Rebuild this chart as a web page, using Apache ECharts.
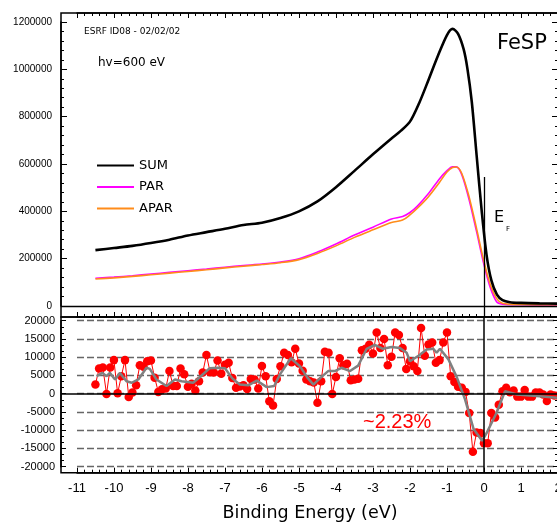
<!DOCTYPE html>
<html>
<head>
<meta charset="utf-8">
<title>FeSP</title>
<script src="https://cdn.jsdelivr.net/npm/echarts@6/dist/echarts.min.js"></script>
<style>
  html, body { margin: 0; padding: 0; background: #fff; }
  #chart { width: 557px; height: 526px; }
</style>
</head>
<body>
<div id="chart"></div>
<script>
// top panel: spectra, binding energy (eV) vs counts
var sumE = [-10.5, -10, -9.5, -9, -8.5, -8, -7.5, -7, -6.5, -6, -5.5, -5, -4.5, -4, -3.5, -3, -2.5, -2.25, -2, -1.75, -1.5, -1.25, -1, -0.85, -0.7, -0.55, -0.45, -0.33, -0.2, -0.06, 0.07, 0.2, 0.35, 0.5, 0.7, 1, 1.5, 2];
var sumY = [236000, 245000, 254000, 266000, 280000, 298000, 312000, 326000, 342000, 352000, 372000, 400000, 442000, 502000, 571000, 641000, 708000, 740000, 779000, 858000, 955000, 1055000, 1145000, 1171000, 1150000, 1085000, 1005000, 863000, 638000, 399000, 215000, 108000, 48000, 25000, 16000, 13000, 11000, 10000];

var parE = [-10.5, -10, -9.5, -9, -8.5, -8, -7.5, -7, -6.5, -6, -5.5, -5, -4.5, -4, -3.5, -3, -2.5, -2.2, -2, -1.8, -1.5, -1.2, -1, -0.85, -0.75, -0.6, -0.4, -0.2, -0.02, 0.16, 0.34, 0.5, 1, 2];
var parY = [117000, 122000, 128000, 135000, 142000, 149000, 156000, 164000, 171000, 177000, 186000, 200000, 228000, 262000, 300000, 333000, 368000, 378000, 395000, 422000, 475000, 538000, 572000, 588000, 588000, 555000, 448000, 314000, 187000, 82000, 18000, 8000, 5000, 4000];
var aparY = [114000, 119000, 125000, 132000, 139000, 146000, 153000, 161000, 168000, 175000, 183000, 196000, 222000, 254000, 290000, 322000, 353000, 363000, 385000, 413000, 462000, 523000, 566000, 585000, 587000, 560000, 460000, 327000, 201000, 96000, 32000, 12000, 6000, 5000];

// bottom panel: PAR - APAR difference
var diffE = [-10.5, -10.4, -10.3, -10.2, -10.1, -10.0, -9.9, -9.8, -9.7, -9.6,
  -9.5, -9.4, -9.3, -9.2, -9.1, -9.0, -8.9, -8.8, -8.7, -8.6,
  -8.5, -8.4, -8.3, -8.2, -8.1, -8.0, -7.9, -7.8, -7.7, -7.6,
  -7.5, -7.4, -7.3, -7.2, -7.1, -7.0, -6.9, -6.8, -6.7, -6.6,
  -6.5, -6.4, -6.3, -6.2, -6.1, -6.0, -5.9, -5.8, -5.7, -5.6,
  -5.5, -5.4, -5.3, -5.2, -5.1, -5.0, -4.9, -4.8, -4.7, -4.6,
  -4.5, -4.4, -4.3, -4.2, -4.1, -4.0, -3.9, -3.8, -3.7, -3.6,
  -3.5, -3.4, -3.3, -3.2, -3.1, -3.0, -2.9, -2.8, -2.7, -2.6,
  -2.5, -2.4, -2.3, -2.2, -2.1, -2.0, -1.9, -1.8, -1.7, -1.6,
  -1.5, -1.4, -1.3, -1.2, -1.1, -1.0, -0.9, -0.8, -0.7, -0.6,
  -0.5, -0.4, -0.3, -0.2, -0.1, 0.0, 0.1, 0.2, 0.3, 0.4,
  0.5, 0.6, 0.7, 0.8, 0.9, 1.0, 1.1, 1.2, 1.3, 1.4,
  1.5, 1.6, 1.7, 1.8, 1.9, 2.0];
var diffY = [2500, 6900, 7200, -100, 7200, 9200, 100, 4800, 9200, -900,
  300, 2300, 7800, 7400, 8900, 9100, 4400, 500, 1200, 1400,
  6200, 2100, 2100, 6900, 5300, 1900, 2700, 900, 3400, 5800,
  10600, 5900, 5800, 9100, 5500, 7900, 8500, 4300, 1600, 2000,
  2300, 1300, 4000, 3900, 1400, 7600, 4800, -2100, -3200, 4000,
  7500, 11200, 10600, 8600, 12300, 8300, 6300, 3900, 3400, 3100,
  -2500, 3400, 11500, 11200, -100, 4600, 9700, 7800, 8200, 3700,
  3900, 4100, 11900, 12300, 13400, 11000, 16800, 12500, 15000, 7800,
  10100, 16800, 16100, 12500, 6800, 8900, 7500, 6200, 18000, 10400,
  13500, 14000, 8500, 9200, 14000, 16800, 4800, 3200, 1900, 1600,
  500, -5300, -15900, -10600, -10800, -13600, -13600, -5300, -6500, -3000,
  700, 1600, 400, 900, -800, -800, 1000, -800, -800, 300,
  300, -200, -2000, -200, -500, -500];

// smoothed difference (grey line)
var smoothE = [-10.47, -10.31, -10.2, -10.11, -9.97, -9.84, -9.66, -9.52, -9.34, -9.12, -9.03, -8.85, -8.58, -8.35, -8.17, -7.86, -7.63, -7.41, -7.18, -7.0, -6.8, -6.6, -6.37, -6.14, -5.87, -5.67, -5.5, -5.22, -4.97, -4.77, -4.61, -4.39, -4.21, -4.03, -3.85, -3.62, -3.4, -3.17, -2.95, -2.73, -2.5, -2.27, -2.09, -2.0, -1.77, -1.55, -1.37, -1.28, -1.19, -0.96, -0.73, -0.51, -0.28, -0.05, 0.08, 0.34, 0.57, 0.89, 1.42, 1.97];
var smoothY = [4800, 5700, 4800, 5700, 3900, 5700, 3400, 3000, 3900, 7100, 6800, 3900, 2100, 3900, 3400, 3000, 5000, 7000, 7100, 7000, 4200, 2500, 2300, 3600, 1800, 2100, 5500, 9700, 7500, 4400, 2500, 4600, 6200, 6200, 7100, 6200, 7700, 12300, 13400, 12300, 12800, 12500, 11200, 8900, 10400, 12100, 12300, 11200, 12300, 9400, 4400, -1600, -9700, -12900, -10600, -5200, 700, -200, -600, -1100];

function zip(xs, ys) {
    return xs.map(function (x, i) { return [x, ys[i]]; });
}
function plain(v) { return String(v); }
function ax(base, extra) { return Object.assign({}, base, extra); }

var chart = echarts.init(document.getElementById('chart'));

var frameLine = {show: true, onZero: false, lineStyle: {color: '#000', width: 1.5}};
var tickX = {
    type: 'value', min: -11, max: 2, interval: 1,
    axisLine: frameLine,
    axisTick: {show: true, inside: true, length: 5, lineStyle: {color: '#000', width: 1}},
    minorTick: {show: true, splitNumber: 5, length: 3, lineStyle: {color: '#000', width: 1}},
    axisLabel: {show: false},
    splitLine: {show: false}
};
var tickTop = {
    type: 'value', min: 0, max: 1200000, interval: 200000,
    axisLine: frameLine,
    axisTick: {show: true, inside: true, length: 6, lineStyle: {color: '#000', width: 1}},
    minorTick: {show: true, splitNumber: 5, length: 3, lineStyle: {color: '#000', width: 1}},
    axisLabel: {show: false},
    splitLine: {show: false}
};
var tickBottom = {
    type: 'value', min: -20000, max: 20000, interval: 5000,
    axisLine: frameLine,
    axisTick: {show: true, inside: true, length: 5, lineStyle: {color: '#000', width: 1}},
    minorTick: {show: true, splitNumber: 3, length: 3, lineStyle: {color: '#000', width: 1}},
    axisLabel: {show: false},
    splitLine: {show: false}
};

var option = {
    animation: false,
    backgroundColor: '#fff',
    grid: [
        {left: 61, top: 13, width: 497, height: 304, show: true, borderColor: '#000', borderWidth: 1.5, backgroundColor: 'transparent', outerBoundsMode: 'none'},
        {left: 77, top: 22, width: 481, height: 284, show: false, outerBoundsMode: 'none'},
        {left: 61, top: 317, width: 497, height: 155.7, show: true, borderColor: '#000', borderWidth: 1.5, backgroundColor: 'transparent', outerBoundsMode: 'none'},
        {left: 77, top: 320.7, width: 481, height: 146, show: false, outerBoundsMode: 'none'}
    ],
    xAxis: [
        {gridIndex: 0, type: 'value', min: -11.43, max: 2, show: false},
        ax(tickX, {gridIndex: 1, position: 'top', offset: 9}),
        ax(tickX, {gridIndex: 1, position: 'bottom', offset: 11}),
        {gridIndex: 2, type: 'value', min: -11.43, max: 2, show: false},
        ax(tickX, {gridIndex: 3, position: 'bottom', offset: 6,
            axisLabel: {show: true, margin: 9, color: '#000', fontSize: 13, fontFamily: 'Liberation Sans', formatter: plain}})
    ],
    yAxis: [
        {gridIndex: 0, type: 'value', min: -46500, max: 1238000, show: false},
        ax(tickTop, {gridIndex: 1, position: 'left', offset: 16,
            axisLabel: {margin: 9, color: '#000', fontSize: 10, fontFamily: 'Liberation Sans', formatter: plain}}),
        ax(tickTop, {gridIndex: 1, position: 'right', offset: 0}),
        {gridIndex: 2, type: 'value', min: -21644, max: 21014, show: false},
        ax(tickBottom, {gridIndex: 3, position: 'left', offset: 16,
            axisLabel: {margin: 6, color: '#000', fontSize: 11, fontFamily: 'Liberation Sans', formatter: plain},
            splitLine: {show: true, lineStyle: {color: '#666', width: 1.3, type: [7, 3]}}}),
        ax(tickBottom, {gridIndex: 3, position: 'right', offset: 0})
    ],
    legend: {
        data: ['SUM', 'PAR', 'APAR'],
        orient: 'vertical', left: 96, top: 159, padding: 0,
        itemWidth: 37, itemHeight: 12, itemGap: 8.5,
        selectedMode: false,
        itemStyle: {opacity: 0},
        textStyle: {fontFamily: 'DejaVu Sans', fontSize: 13, color: '#000'}
    },
    series: [
        {
            name: 'SUM', type: 'line', xAxisIndex: 0, yAxisIndex: 0,
            data: zip(sumE, sumY), symbol: 'none', smooth: 0.3, z: 5,
            lineStyle: {color: '#000', width: 2.6}, itemStyle: {color: '#000'},
            markLine: {
                silent: true, symbol: 'none', label: {show: false},
                lineStyle: {color: '#000', width: 1.3, type: 'solid'},
                data: [
                    {yAxis: 0},
                    [{coord: [0, 545000]}, {coord: [0, -46500]}]
                ]
            }
        },
        {
            name: 'PAR', type: 'line', xAxisIndex: 0, yAxisIndex: 0,
            data: zip(parE, parY), symbol: 'none', smooth: 0.3, z: 3,
            lineStyle: {color: '#ff00ff', width: 1.6}, itemStyle: {color: '#ff00ff'}
        },
        {
            name: 'APAR', type: 'line', xAxisIndex: 0, yAxisIndex: 0,
            data: zip(parE, aparY), symbol: 'none', smooth: 0.3, z: 4,
            lineStyle: {color: '#ff8c1a', width: 1.6}, itemStyle: {color: '#ff8c1a'}
        },
        {
            type: 'line', xAxisIndex: 3, yAxisIndex: 3,
            data: zip(diffE, diffY), symbol: 'circle', symbolSize: 8.5, showAllSymbol: true, z: 3,
            lineStyle: {color: '#ff0000', width: 1}, itemStyle: {color: '#ff0000'},
            markLine: {
                silent: true, symbol: 'none', label: {show: false},
                lineStyle: {color: '#000', width: 1.5, type: 'solid'},
                data: [{yAxis: 0}, {xAxis: 0}]
            }
        },
        {
            type: 'line', xAxisIndex: 3, yAxisIndex: 3,
            data: zip(smoothE, smoothY), symbol: 'none', z: 4,
            lineStyle: {color: '#808080', width: 2.5}
        }
    ],
    graphic: [
        {type: 'text', x: 84, y: 32, style: {text: 'ESRF ID08 - 02/02/02', font: '9px "DejaVu Sans"', fill: '#000', textVerticalAlign: 'middle', verticalAlign: 'middle'}},
        {type: 'text', x: 98, y: 63, style: {text: 'hv=600 eV', font: '12px "DejaVu Sans"', fill: '#000', textVerticalAlign: 'middle', verticalAlign: 'middle'}},
        {type: 'text', x: 497, y: 44, style: {text: 'FeSP', font: '21px "DejaVu Sans"', fill: '#000', textVerticalAlign: 'middle', verticalAlign: 'middle'}},
        {type: 'text', x: 494, y: 218, style: {text: 'E', font: '16px "DejaVu Sans"', fill: '#000', textVerticalAlign: 'middle', verticalAlign: 'middle'}},
        {type: 'text', x: 506, y: 229, style: {text: 'F', font: '7px "DejaVu Sans"', fill: '#000', textVerticalAlign: 'middle', verticalAlign: 'middle'}},
        {type: 'text', x: 363, y: 422, style: {text: '~2.23%', font: '20px "Liberation Sans"', fill: '#ff0000', textVerticalAlign: 'middle', verticalAlign: 'middle'}},
        {type: 'text', x: 310, y: 513, style: {text: 'Binding Energy (eV)', font: '17.5px "DejaVu Sans"', fill: '#000', textAlign: 'center', align: 'center', textVerticalAlign: 'middle', verticalAlign: 'middle'}}
    ]
};

chart.setOption(option);
</script>
</body>
</html>
